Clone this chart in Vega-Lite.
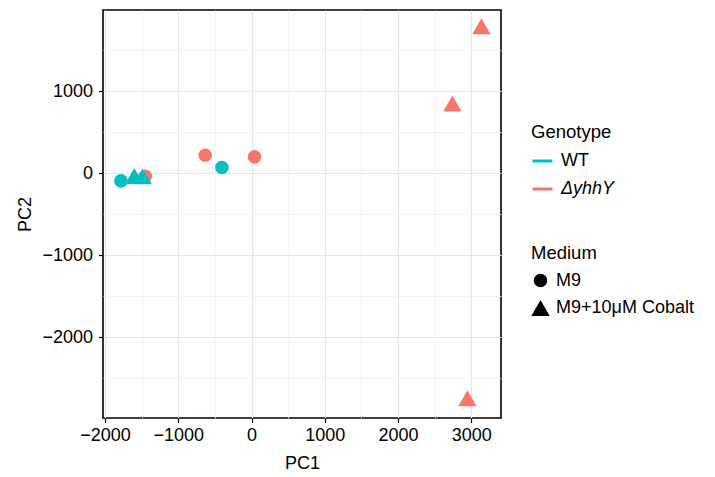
{
  "$schema": "https://vega.github.io/schema/vega-lite/v6.json",
  "autosize": "none",
  "width": 398,
  "height": 408,
  "padding": {"left": 103, "top": 10, "right": 214, "bottom": 59},
  "background": "white",
  "config": {
    "font": "Liberation Sans",
    "view": {"stroke": "black", "strokeWidth": 1.6},
    "axis": {
      "domain": false,
      "labelFontSize": 18,
      "titleFontSize": 18,
      "labelColor": "black",
      "titleColor": "black",
      "titleFontWeight": "normal",
      "tickSize": 4.5,
      "tickWidth": 1.2
    },
    "legend": {
      "titleFontSize": 18.5,
      "labelFontSize": 18,
      "titleFontWeight": "normal",
      "titleColor": "black",
      "labelColor": "black",
      "padding": 0
    }
  },
  "data": {
    "values": [
      {"PC1": -1450, "PC2": -37, "Genotype": "ΔyhhY", "Medium": "M9"},
      {"PC1": -632, "PC2": 219, "Genotype": "ΔyhhY", "Medium": "M9"},
      {"PC1": 41, "PC2": 199, "Genotype": "ΔyhhY", "Medium": "M9"},
      {"PC1": 3138, "PC2": 1790, "Genotype": "ΔyhhY", "Medium": "M9+10μM Cobalt"},
      {"PC1": 2742, "PC2": 849, "Genotype": "ΔyhhY", "Medium": "M9+10μM Cobalt"},
      {"PC1": 2947, "PC2": -2744, "Genotype": "ΔyhhY", "Medium": "M9+10μM Cobalt"},
      {"PC1": -1782, "PC2": -94, "Genotype": "WT", "Medium": "M9"},
      {"PC1": -404, "PC2": 69, "Genotype": "WT", "Medium": "M9"},
      {"PC1": -1600, "PC2": -33, "Genotype": "WT", "Medium": "M9+10μM Cobalt"},
      {"PC1": -1487, "PC2": -39, "Genotype": "WT", "Medium": "M9+10μM Cobalt"}
    ]
  },
  "mark": {"type": "point", "filled": true, "opacity": 1},
  "encoding": {
    "x": {
      "field": "PC1", "type": "quantitative",
      "scale": {"domain": [-2027, 3405], "nice": false, "zero": false},
      "axis": {
        "title": "PC1",
        "values": [-2000, -1500, -1000, -500, 0, 500, 1000, 1500, 2000, 2500, 3000],
        "labelExpr": "datum.value % 1000 === 0 ? format(datum.value, 'd') : ''",
        "labelPadding": 4,
        "titlePadding": 10,
        "gridColor": {"condition": {"test": "datum.value % 1000 === 0", "value": "#E6E6E6"}, "value": "#F0F0F0"},
        "gridWidth": {"condition": {"test": "datum.value % 1000 === 0", "value": 1.1}, "value": 0.8},
        "tickColor": {"condition": {"test": "datum.value % 1000 === 0", "value": "black"}, "value": "transparent"}
      }
    },
    "y": {
      "field": "PC2", "type": "quantitative",
      "scale": {"domain": [-2984, 1989], "nice": false, "zero": false},
      "axis": {
        "title": "PC2",
        "values": [-2500, -2000, -1500, -1000, -500, 0, 500, 1000, 1500],
        "labelExpr": "datum.value % 1000 === 0 ? format(datum.value, 'd') : ''",
        "labelPadding": 6,
        "titlePadding": 7,
        "gridColor": {"condition": {"test": "datum.value % 1000 === 0", "value": "#E6E6E6"}, "value": "#F0F0F0"},
        "gridWidth": {"condition": {"test": "datum.value % 1000 === 0", "value": 1.1}, "value": 0.8},
        "tickColor": {"condition": {"test": "datum.value % 1000 === 0", "value": "black"}, "value": "transparent"}
      }
    },
    "color": {
      "field": "Genotype", "type": "nominal",
      "scale": {"domain": ["WT", "ΔyhhY"], "range": ["#00BFC4", "#F8766D"]},
      "legend": {
        "title": "Genotype",
        "orient": "none",
        "legendX": 428,
        "legendY": 113,
        "symbolType": "stroke",
        "symbolSize": 400,
        "symbolStrokeWidth": 3,
        "titlePadding": 8,
        "rowPadding": 7,
        "labelOffset": 7,
        "encoding": {
          "symbols": {"stroke": {"value": {"expr": "scale('color', datum.value)"}}, "strokeWidth": {"value": 3}},
          "labels": {"fontStyle": {"condition": {"test": "datum.value === 'ΔyhhY'", "value": "italic"}, "value": "normal"}}
        }
      }
    },
    "shape": {
      "field": "Medium", "type": "nominal",
      "scale": {"domain": ["M9", "M9+10μM Cobalt"], "range": ["circle", "triangle-up"]},
      "legend": {
        "title": "Medium",
        "orient": "none",
        "legendX": 428,
        "legendY": 234,
        "titlePadding": 9,
        "rowPadding": 9,
        "labelOffset": 6,
        "encoding": {
          "symbols": {"fill": {"value": "black"}, "strokeWidth": {"value": 0}}
        }
      }
    },
    "size": {
      "field": "Medium", "type": "nominal",
      "scale": {"domain": ["M9", "M9+10μM Cobalt"], "range": [185, 340]},
      "legend": {"title": "Medium"}
    }
  }
}
